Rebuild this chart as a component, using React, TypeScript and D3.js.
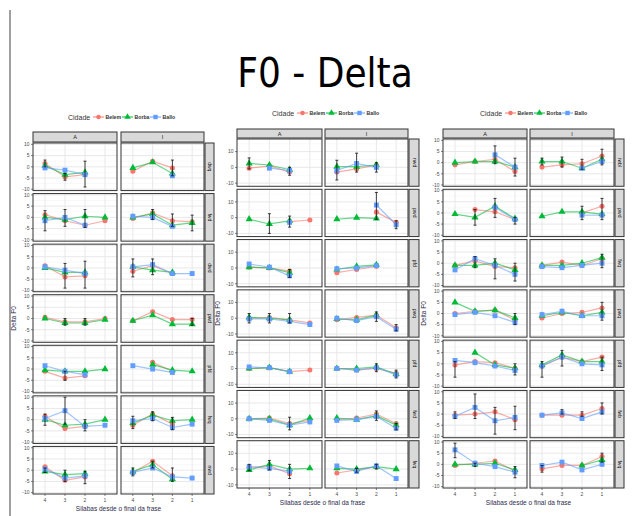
import React from 'react';
import * as d3 from 'd3';

type V = (number | null)[];
type Err = [number, number, string, number, number];

const levels = ['4', '3', '2', '1'];
const facetCols = ['A', 'I'];
const seriesNames = ['Belem', 'Borba', 'Ballo'];
const seriesColors = ['#F8766D', '#00BA38', '#619CFF'];
const legendTitle = 'Cidade';
const titleText = 'F0 - Delta';
const xTitle = 'Silabas desde o final da frase';
const yTitle = 'Delta F0';

const rowLabels1 = ['dwq', 'fwd', 'dwd', 'pwd', 'pfd', 'fwq', 'nwd'];
const rowLabels2 = ['nwd', 'pwd', 'pfd', 'pwq', 'pfd', 'fwd', 'fwq'];
const rowLabels3 = ['iwbl', 'pwd', 'fwq', 'pwq', 'pfd', 'fwb', 'fwq'];

const ticks1 = [-10, -5, 0, 5, 10];
const ticks2 = [-10, 0, 10];
const ticks3 = [-10, -5, 0, 5, 10];

// Panel 1 — order: row0 A, row0 I, row1 A, row1 I, ...
const p1Belem: V[] = [
  [1.5, -4.5, -3.5, null], [-2, 2.5, -0.5, null],
  [1.2, -1.5, -3.5, -1.5], [-0.5, 2, -1.5, -2],
  [1, -4, -3.5, null], [-1.5, 1, -2.5, null],
  [0.5, -1.5, -1.5, 0], [-1, 3, -0.5, -0.5],
  [-1, -4, -3, null], [null, 3, -1, null],
  [1.5, -4, -3, null], [-2.5, 2.5, -2, null],
  [1.5, -4.5, -3, null], [-1, 4, -2.5, null],
];
const p1Borba: V[] = [
  [0.5, -3.5, -2.5, null], [-0.5, 2, -3, null],
  [0, -1, 0.5, 0], [0, 1.5, -3.5, -2.5],
  [0, -2, -2, null], [0.5, -1, -2, null],
  [0, -2, -2, -0.5], [-1, 1.5, -2.5, -2.5],
  [-0.5, -1, -1, 0], [null, 2, -0.5, -1],
  [0, -2.5, -2, 0], [-1.5, 2, -0.5, 0],
  [-0.5, -2, -1.5, null], [-0.5, 2.5, -4, null],
];
const p1Ballo: V[] = [
  [-0.5, -1.5, -3.5, null], [null, null, -4, null],
  [-1.5, 0, -3.5, null], [0.5, 0, -4, null],
  [0.5, -1, -2.5, null], [0.5, 1.5, -2.5, -2.5],
  [null, null, null, null], [null, null, null, null],
  [1.5, -1, -2.5, null], [1.5, 0, -1.5, null],
  [0.5, 4, -3, -2.5], [-0.5, 0.5, -3.5, -2],
  [0.5, -3.5, -2.5, null], [-1, 1, -3, -3.5],
];
const p1Err: Err[] = [
  [0, 0, '4', 0, 3], [0, 0, '3', -6, -3], [0, 0, '2', -9, 2.5],
  [0, 1, '2', -4, 3],
  [1, 0, '4', -6, 3], [1, 0, '3', -4, 3.5], [1, 0, '2', -4.5, 3.5],
  [1, 1, '3', -1, 3.5], [1, 1, '2', -4, 1.5], [1, 1, '1', -6, 1],
  [2, 0, '3', -9, 2], [2, 0, '2', -9, 3],
  [2, 1, '4', -4, 4], [2, 1, '3', -3, 4],
  [3, 0, '3', -3, 0], [3, 0, '2', -3, 0],
  [3, 1, '1', -3, 0],
  [4, 0, '3', -5, -1],
  [5, 0, '4', -2.5, 2.5], [5, 0, '3', -2, 10], [5, 0, '2', -5, 0],
  [5, 1, '4', -4, 1.5], [5, 1, '3', -0.5, 3.5], [5, 1, '2', -4.5, 1],
  [6, 0, '4', -1, 1], [6, 0, '3', -5, 0], [6, 0, '2', -6, -0.5],
  [6, 1, '4', -2.5, 1], [6, 1, '3', 1, 4], [6, 1, '2', -5, 1],
];

// Panel 2
const p2Belem: V[] = [
  [-0.5, 1, -3, null], [-3, -1, 1.5, null],
  [null, null, -2.5, -1.5], [null, null, 3.5, -3],
  [0.5, 0, -2, null], [-3, -1, 1, null],
  [0, 0.5, -1, -3], [-1, 0.5, 2, -6],
  [0, 0.5, -2, -1], [0, -1, 0, -3],
  [0, 0.5, -3, -1], [-0.5, 0.5, 3, -3],
  [1, 2, -3, null], [-2.5, -0.5, 1.5, null],
];
const p2Borba: V[] = [
  [2.5, 1.5, -1.5, null], [0.5, 0.5, 1.5, null],
  [-1, -4, -2, null], [-1, 0, -0.5, null],
  [0.5, 0, -3, null], [-1, 1, 2, null],
  [0.5, 0, -1, null], [-0.5, -1, 2, null],
  [0, 0.5, -2, null], [0, 0, 1, -3.5],
  [0, 0, -4, 0.5], [0.5, -0.5, 2, -4],
  [-0.5, 3, 0, 0.5], [0.5, 0, 1.5, 0],
];
const p2Ballo: V[] = [
  [null, -0.5, -2, null], [-2, 2.5, 0, null],
  [null, null, -3, null], [null, null, 8, -4.5],
  [2.5, 0.5, -5, null], [-0.5, 0, 1.5, null],
  [-0.5, -0.5, -2, -4], [0, -1.5, 1, -7],
  [1, 0.5, -2, null], [0, -1, 0.5, -4],
  [0, -1, -4, -2], [-1, -0.5, 1.5, -6],
  [1.5, 0.5, -1.5, null], [2, -1.5, 2, -6],
];
const p2Err: Err[] = [
  [0, 0, '4', -1, 6], [0, 0, '2', -5, 0],
  [0, 1, '4', -8, 4.5], [0, 1, '3', -3, 9], [0, 1, '2', -3, 3],
  [1, 0, '3', -10, 2.5], [1, 0, '2', -6, 1],
  [1, 1, '2', -1, 16], [1, 1, '1', -7, -2],
  [2, 0, '2', -6, -1],
  [3, 0, '4', -3, 3], [3, 0, '3', -3, 3], [3, 0, '2', -3, 3],
  [3, 1, '2', -2, 4], [3, 1, '1', -8, -4],
  [4, 1, '2', -2, 3], [4, 1, '1', -6, -1],
  [5, 0, '2', -7, 1],
  [5, 1, '2', -1, 5], [5, 1, '1', -7, -3],
  [6, 0, '4', -1, 3], [6, 0, '3', -0.5, 5.5], [6, 0, '2', -6, 3],
  [6, 1, '3', -2, 0.5], [6, 1, '2', 0, 3],
];

// Panel 3
const p3Belem: V[] = [
  [-1, 0.5, 1.5, -4], [-2, -1, -0.5, 3],
  [null, 1.5, 0.5, -3], [null, null, 0, 3],
  [-1, 1, -1.5, -2], [-1, 0.5, -1, 2],
  [0, 1, 1.5, -3], [-2, 0, 0.5, 2.5],
  [-0.5, 1, 0.5, -2], [-1, 3, 1, 3],
  [-0.5, 0, 1, -2.5], [-0.5, -0.5, -0.5, 2.5],
  [-0.5, 0.5, 1.5, -3], [-2, -0.5, -0.5, 3.5],
];
const p3Borba: V[] = [
  [0, 0.5, 0.5, -2], [0.5, 0.5, -2.5, 1.5],
  [-0.5, -2, 3, -2.5], [-1.5, 0.5, 0.5, -0.5],
  [-1, -1, 0, -3], [-1, -1, 0, 2.5],
  [5, 1, 1.5, -2], [-1, 0.5, -1, 0.5],
  [null, 5, -0.5, -2], [-0.5, 4, 1, 1],
  [null, null, null, null], [null, null, null, null],
  [0, 0, 0.5, -2.5], [null, null, -0.5, 2],
];
const p3Ballo: V[] = [
  [null, null, 3.5, -2], [null, null, -2.5, 0.5],
  [null, null, 2.5, -3], [null, null, -1, -1],
  [-3, 2, -1, -5], [-1.5, -2, -1, 0],
  [-0.5, 0.5, -1, -4], [-0.5, 1, -1, -1],
  [1.5, 0.5, -1, -3], [-1, 3, 0, -0.5],
  [-1, 3, -3, -1.5], [-0.5, 0.5, -2, 1],
  [6.5, 0.5, -1, -3.5], [-0.5, 1, -2.5, 0],
];
const p3Err: Err[] = [
  [0, 0, '2', -0.5, 7.5], [0, 0, '1', -6, 2],
  [0, 1, '4', -1, 2], [0, 1, '3', -2, 2.5], [0, 1, '2', -3, 1.5], [0, 1, '1', -1, 6],
  [1, 0, '3', -5.5, 1.5], [1, 0, '2', -2, 6.5], [1, 0, '1', -5, -2],
  [1, 1, '2', -3, 3], [1, 1, '1', -3, 6.5],
  [2, 0, '3', -2, 3], [2, 0, '2', -7, 2], [2, 0, '1', -8, 0],
  [2, 1, '1', -2, 4],
  [3, 0, '1', -5, 0],
  [3, 1, '1', -3, 5],
  [4, 0, '4', -6, 1], [4, 0, '1', -5, 0],
  [4, 1, '4', -6, 1], [4, 1, '3', -1, 6], [4, 1, '1', -3, 3],
  [5, 0, '4', -2, 1], [5, 0, '3', -2, 9], [5, 0, '2', -9, 3], [5, 0, '1', -7, 3.5],
  [5, 1, '3', 0, 2], [5, 1, '2', -1, 1], [5, 1, '1', 0, 5],
  [6, 0, '4', 3, 9.5], [6, 0, '3', -1, 0.5], [6, 0, '1', -6, -1],
  [6, 1, '4', -3.5, -0.5], [6, 1, '1', 1, 5],
];

interface Cfg {
  cols: [number, number][];
  strip: [number, number];
  stripTop: number;
  top: number;
  bottom: number;
  yDomain: [number, number];
  yTicks: number[];
  legendY: number;
  legendCx: number;
  yLabelX: number;
  xTickY: number;
  xLabelY: number;
}

const cfg1: Cfg = { cols: [[33, 117], [121, 204]], strip: [205, 214], stripTop: 132, top: 143, bottom: 494, yDomain: [-10.6, 10.6], yTicks: ticks1, legendY: 117, legendCx: 118, yLabelX: 16, xTickY: 502, xLabelY: 511 };
const cfg2: Cfg = { cols: [[237, 322], [325, 408]], strip: [409, 419], stripTop: 129, top: 139, bottom: 488, yDomain: [-12, 18], yTicks: ticks2, legendY: 113, legendCx: 322, yLabelX: 220, xTickY: 496, xLabelY: 505 };
const cfg3: Cfg = { cols: [[443, 527], [530, 614]], strip: [615, 624], stripTop: 129, top: 139, bottom: 488, yDomain: [-10.6, 10.6], yTicks: ticks3, legendY: 113, legendCx: 530, yLabelX: 426, xTickY: 496, xLabelY: 505 };

const symbolTypes = [d3.symbolCircle, d3.symbolTriangle, d3.symbolSquare];
const symbolSizes = [20, 22, 24];

function sym(i: number, x: number, y: number, key: string, scale = 1) {
  const p = d3.symbol().type(symbolTypes[i]).size(symbolSizes[i] * scale)();
  return <path key={key} d={p || ''} transform={`translate(${x},${y})`} fill={seriesColors[i]} />;
}

const FONT = 'Liberation Sans, Arial, sans-serif';

function Legend({ cx, y }: { cx: number; y: number }) {
  const start = cx - 50;
  const keyX = [start + 25, start + 54, start + 82];
  return (
    <g fontFamily={FONT}>
      <text x={start} y={y + 2.5} fontSize={7} fill="#333">{legendTitle}</text>
      {seriesNames.map((n, i) => (
        <g key={n}>
          <line x1={keyX[i]} x2={keyX[i] + 11} y1={y} y2={y} stroke={seriesColors[i]} strokeWidth={1} />
          {sym(i, keyX[i] + 5.5, y, 's' + n, 0.8)}
          <text x={keyX[i] + 12.5} y={y + 2} fontSize={5.2} fontWeight="bold" fill="#333">{n}</text>
        </g>
      ))}
    </g>
  );
}

function Panel({ cfg, data, errs, rowLabels }: { cfg: Cfg; data: V[][]; errs: Err[]; rowLabels: string[] }) {
  const nRows = 7;
  const gap = 3;
  const rowH = (cfg.bottom - cfg.top - gap * (nRows - 1)) / nRows;
  const xScales = cfg.cols.map(([a, b]) => d3.scalePoint<string>().domain(levels).range([a, b]).padding(0.6));
  const minor: number[] = [];
  for (let i = 0; i < cfg.yTicks.length - 1; i++) minor.push((cfg.yTicks[i] + cfg.yTicks[i + 1]) / 2);
  const step = cfg.yTicks[1] - cfg.yTicks[0];
  minor.push(cfg.yTicks[cfg.yTicks.length - 1] + step / 2);
  minor.push(cfg.yTicks[0] - step / 2);
  const out: React.ReactNode[] = [];

  cfg.cols.forEach(([a, b], c) => {
    out.push(<rect key={'st' + c} x={a} y={cfg.stripTop} width={b - a} height={cfg.top - cfg.stripTop - 1} fill="#d9d9d9" stroke="#333" strokeWidth={1} />);
    out.push(<text key={'stt' + c} x={(a + b) / 2} y={(cfg.stripTop + cfg.top) / 2 + 1.5} fontSize={5.5} textAnchor="middle" fill="#1a1a1a" fontFamily={FONT}>{facetCols[c]}</text>);
  });

  for (let r = 0; r < nRows; r++) {
    const y0 = cfg.top + r * (rowH + gap);
    const y1 = y0 + rowH;
    const yS = d3.scaleLinear().domain(cfg.yDomain).range([y1, y0]);
    out.push(<rect key={'rs' + r} x={cfg.strip[0]} y={y0} width={cfg.strip[1] - cfg.strip[0]} height={rowH} fill="#d9d9d9" stroke="#333" strokeWidth={1} />);
    out.push(<text key={'rst' + r} transform={`translate(${(cfg.strip[0] + cfg.strip[1]) / 2 - 1.5},${(y0 + y1) / 2}) rotate(90)`} fontSize={5} textAnchor="middle" fill="#1a1a1a" fontFamily={FONT}>{rowLabels[r]}</text>);
    cfg.yTicks.forEach((t) => {
      out.push(<text key={`yt${r}_${t}`} x={cfg.cols[0][0] - 3.5} y={yS(t) + 1.8} fontSize={5} textAnchor="end" fill="#4d4d4d" fontFamily={FONT}>{t}</text>);
      out.push(<line key={`ytk${r}_${t}`} x1={cfg.cols[0][0] - 2} x2={cfg.cols[0][0]} y1={yS(t)} y2={yS(t)} stroke="#333" strokeWidth={0.6} />);
    });

    cfg.cols.forEach(([a, b], c) => {
      const xS = xScales[c];
      const k = `${r}_${c}`;
      out.push(<rect key={'bg' + k} x={a} y={y0} width={b - a} height={rowH} fill="#fff" />);
      minor.forEach((m) => {
        const yy = yS(m);
        if (yy > y0 && yy < y1) out.push(<line key={`mi${k}_${m}`} x1={a} x2={b} y1={yy} y2={yy} stroke="#f2f2f2" strokeWidth={0.5} />);
      });
      cfg.yTicks.forEach((t) => {
        const yy = yS(t);
        if (yy > y0 && yy < y1) out.push(<line key={`ma${k}_${t}`} x1={a} x2={b} y1={yy} y2={yy} stroke="#e5e5e5" strokeWidth={0.9} />);
      });
      levels.forEach((l) => {
        out.push(<line key={`vx${k}_${l}`} x1={xS(l)} x2={xS(l)} y1={y0} y2={y1} stroke="#e5e5e5" strokeWidth={0.9} />);
      });
      const idx = r * 2 + c;
      data.forEach((series, si) => {
        const vals = series[idx];
        const pts = levels.map((l, li) => ({ l, v: vals[li] }));
        const line = d3.line<{ l: string; v: number | null }>()
          .defined((d) => d.v !== null)
          .x((d) => xS(d.l) as number)
          .y((d) => yS(d.v as number));
        out.push(<path key={`ln${k}_${si}`} d={line(pts) || ''} fill="none" stroke={seriesColors[si]} strokeWidth={1.2} strokeOpacity={0.6} />);
      });
      data.forEach((series, si) => {
        const vals = series[idx];
        levels.forEach((l, li) => {
          const v = vals[li];
          if (v !== null) out.push(sym(si, xS(l) as number, yS(v), `pt${k}_${si}_${li}`));
        });
      });
      errs.filter((e) => e[0] === r && e[1] === c).forEach((e, ei) => {
        const x = xS(e[2]) as number;
        const lo = yS(e[3]);
        const hi = yS(e[4]);
        out.push(
          <g key={`eb${k}_${ei}`} stroke="#111" strokeWidth={0.8}>
            <line x1={x} x2={x} y1={lo} y2={hi} />
            <line x1={x - 1.5} x2={x + 1.5} y1={lo} y2={lo} />
            <line x1={x - 1.5} x2={x + 1.5} y1={hi} y2={hi} />
          </g>
        );
      });
      out.push(<rect key={'bd' + k} x={a} y={y0} width={b - a} height={rowH} fill="none" stroke="#333" strokeWidth={1} />);
      if (r === nRows - 1) {
        levels.forEach((l) => {
          out.push(<line key={`xtk${k}_${l}`} x1={xS(l)} x2={xS(l)} y1={y1} y2={y1 + 2} stroke="#333" strokeWidth={0.6} />);
          out.push(<text key={`xt${k}_${l}`} x={xS(l)} y={cfg.xTickY} fontSize={5} textAnchor="middle" fill="#4d4d4d" fontFamily={FONT}>{l}</text>);
        });
      }
    });
  }
  const plotCx = (cfg.cols[0][0] + cfg.cols[1][1]) / 2;
  out.push(<text key="xl" x={plotCx} y={cfg.xLabelY} fontSize={6.5} textAnchor="middle" fill="#2d2d4d" fontFamily={FONT}>{xTitle}</text>);
  out.push(<text key="yl" transform={`translate(${cfg.yLabelX},${(cfg.top + cfg.bottom) / 2}) rotate(-90)`} fontSize={6.5} textAnchor="middle" fill="#2d2d4d" fontFamily={FONT}>{yTitle}</text>);
  return (
    <g>
      <Legend cx={cfg.legendCx} y={cfg.legendY} />
      {out}
    </g>
  );
}

export default function App() {
  return (
    <svg width={638} height={516} style={{ position: 'absolute', left: 0, top: 0, display: 'block' }}>
      <rect x={0} y={0} width={638} height={516} fill="#fff" />
      <line x1={10} x2={10} y1={10} y2={516} stroke="#a0a0a0" strokeWidth={2} />
      <text x={325} y={87} fontSize={40} textAnchor="middle" fill="#000" fontFamily="DejaVu Sans Condensed, DejaVu Sans, sans-serif" style={{ fontStretch: 'condensed' }}>{titleText}</text>
      <Panel cfg={cfg1} data={[p1Belem, p1Borba, p1Ballo]} errs={p1Err} rowLabels={rowLabels1} />
      <Panel cfg={cfg2} data={[p2Belem, p2Borba, p2Ballo]} errs={p2Err} rowLabels={rowLabels2} />
      <Panel cfg={cfg3} data={[p3Belem, p3Borba, p3Ballo]} errs={p3Err} rowLabels={rowLabels3} />
    </svg>
  );
}
